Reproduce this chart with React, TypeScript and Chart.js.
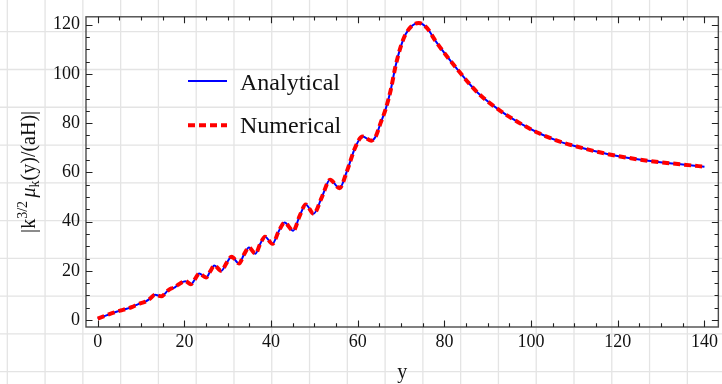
import React, { useEffect, useRef } from "react";
import { Chart, registerables } from "chart.js";

Chart.register(...registerables);

// ---- data ----
const xValues = [0, 1.5, 3, 4.5, 5.5, 6.5, 8, 9, 10, 11, 12, 13.2, 14.7, 16.2, 17, 17.6, 18.5, 20.2, 21.5, 22.5, 23.4, 25.0, 26.0, 26.9, 28.5, 29.8, 30.9, 32.6, 33.8, 34.9, 36.4, 37.5, 38.6, 40.3, 41.8, 43.1, 45.1, 46.6, 48.0, 49.8, 51.8, 53.6, 55.8, 57.5, 59.5, 61.1, 63.1, 64.2, 65.3, 66.4, 67.6, 68.7, 69.9, 71, 72.6, 74.1, 76, 77.9, 80.2, 82.9, 86, 88, 92.5, 97, 101.7, 106.3, 110.5, 117.8, 127, 135, 140];
const analyticalValues = [0.6, 1.6, 2.6, 3.5, 4.0, 4.5, 5.4, 6.2, 6.9, 7.5, 8.6, 10.3, 9.7, 12.0, 12.9, 13.1, 14.3, 15.8, 14.6, 16.8, 18.9, 17.3, 19.9, 22.2, 20.0, 23.4, 25.7, 23.0, 26.8, 29.5, 27.0, 31.0, 33.9, 31.0, 36.2, 39.6, 36.3, 42.3, 47.0, 43.2, 50.3, 57.0, 53.6, 60.5, 70.5, 74.6, 72.9, 74.8, 80.2, 85.5, 93.4, 103, 111, 116, 119.7, 120.7, 118.6, 113.5, 108, 102, 95.5, 91.8, 85.5, 80.4, 76.0, 72.7, 70.5, 67.4, 64.7, 63.2, 62.3];
const numericalValues = [0.6, 1.6, 2.6, 3.5, 4.0, 4.5, 5.4, 6.2, 6.9, 7.5, 8.6, 10.3, 9.7, 12.0, 12.9, 13.1, 14.3, 15.8, 14.6, 16.8, 18.9, 17.3, 19.9, 22.2, 20.0, 23.4, 25.7, 23.0, 26.8, 29.5, 27.0, 31.0, 33.9, 31.0, 36.2, 39.6, 36.3, 42.3, 47.0, 43.2, 50.3, 57.0, 53.6, 60.5, 70.5, 74.6, 72.9, 74.8, 80.2, 85.5, 93.4, 103, 111, 116, 119.7, 120.7, 118.6, 113.5, 108, 102, 95.5, 91.8, 85.5, 80.4, 76.0, 72.7, 70.5, 67.4, 64.7, 63.2, 62.3];

const seriesLabels = ["Analytical", "Numerical"];
const xTicks = [0, 20, 40, 60, 80, 100, 120, 140];
const yTicks = [0, 20, 40, 60, 80, 100, 120];
const minorStep = 5;
const xTitle = "y";

const SERIF = "'Liberation Serif', 'DejaVu Serif', serif";
const BLUE = "rgb(0,0,255)";
const RED = "rgb(255,0,0)";
const FRAME = "#4a4a4a";
const DASH = [7, 4];

function minorList(ticks: number[]) {
  const out: number[] = [];
  const lo = ticks[0];
  const hi = ticks[ticks.length - 1];
  for (let v = lo; v <= hi + 1e-9; v += minorStep) {
    if (!ticks.includes(v)) out.push(v);
  }
  return out;
}

const decorPlugin = {
  id: "decor",
  beforeDraw(chart: any) {
    const { ctx, width, height } = chart;
    ctx.save();
    ctx.fillStyle = "#ffffff";
    ctx.fillRect(0, 0, width, height);
    // graph-paper background
    ctx.strokeStyle = "#e4e4e4";
    ctx.lineWidth = 1.3;
    const step = 37.78;
    ctx.beginPath();
    for (let x = 7.3; x < width; x += step) {
      ctx.moveTo(x, 0);
      ctx.lineTo(x, height);
    }
    for (let y = 31.7; y < height; y += step) {
      ctx.moveTo(0, y);
      ctx.lineTo(width, y);
    }
    ctx.stroke();
    ctx.restore();
  },
  afterDraw(chart: any) {
    const { ctx, chartArea } = chart;
    const { left, right, top, bottom } = chartArea;
    const xs = chart.scales.x;
    const ys = chart.scales.y;
    ctx.save();
    // frame
    ctx.strokeStyle = FRAME;
    ctx.lineWidth = 1.4;
    ctx.strokeRect(left, top, right - left, bottom - top);
    // ticks (inward, mirrored)
    ctx.lineWidth = 1.1;
    ctx.strokeStyle = "#222";
    ctx.beginPath();
    const drawX = (v: number, len: number) => {
      const p = Math.round(xs.getPixelForValue(v)) + 0.5;
      ctx.moveTo(p, bottom);
      ctx.lineTo(p, bottom - len);
      ctx.moveTo(p, top);
      ctx.lineTo(p, top + len);
    };
    const drawY = (v: number, len: number) => {
      const p = Math.round(ys.getPixelForValue(v)) + 0.5;
      ctx.moveTo(left, p);
      ctx.lineTo(left + len, p);
      ctx.moveTo(right, p);
      ctx.lineTo(right - len, p);
    };
    xTicks.forEach((v) => drawX(v, 6.5));
    minorList(xTicks).forEach((v) => drawX(v, 3.8));
    yTicks.forEach((v) => drawY(v, 6.5));
    minorList(yTicks).forEach((v) => drawY(v, 3.8));
    ctx.stroke();

    // legend
    const legendItems = [
      { label: seriesLabels[0], color: BLUE, width: 2, dash: [] as number[], ly: 81, by: 89.5 },
      { label: seriesLabels[1], color: RED, width: 4, dash: DASH, ly: 125.3, by: 132.5 },
    ];
    legendItems.forEach((it) => {
      ctx.beginPath();
      ctx.setLineDash(it.dash);
      ctx.strokeStyle = it.color;
      ctx.lineWidth = it.width;
      ctx.moveTo(188, it.ly);
      ctx.lineTo(227, it.ly);
      ctx.stroke();
      ctx.setLineDash([]);
      ctx.fillStyle = "#111";
      ctx.font = `24px ${SERIF}`;
      ctx.textAlign = "left";
      ctx.textBaseline = "alphabetic";
      ctx.fillText(it.label, 240, it.by);
    });

    // x title
    ctx.fillStyle = "#111";
    ctx.font = `20px ${SERIF}`;
    ctx.textAlign = "center";
    ctx.textBaseline = "alphabetic";
    ctx.fillText(xTitle, (left + right) / 2, 378);

    // y title: |k^{3/2} μ_k(y)/(aH)|
    const parts = [
      { t: "|k", font: `20px ${SERIF}`, dy: 0 },
      { t: "3/2", font: `14px ${SERIF}`, dy: -8 },
      { t: " ", font: `14px ${SERIF}`, dy: 0 },
      { t: "μ", font: `italic 20px ${SERIF}`, dy: 0 },
      { t: "k", font: `14px ${SERIF}`, dy: 4 },
      { t: "(y)/(aH)|", font: `20px ${SERIF}`, dy: 0 },
    ];
    let total = 0;
    const widths = parts.map((p) => {
      ctx.font = p.font;
      const w = ctx.measureText(p.t).width;
      total += w;
      return w;
    });
    ctx.translate(35, (top + bottom) / 2);
    ctx.rotate(-Math.PI / 2);
    ctx.textAlign = "left";
    let cx = -total / 2;
    parts.forEach((p, i) => {
      ctx.font = p.font;
      ctx.fillText(p.t, cx, p.dy);
      cx += widths[i];
    });
    ctx.restore();
  },
};

export default function App() {
  const ref = useRef<HTMLCanvasElement | null>(null);

  useEffect(() => {
    document.body.style.margin = "0";
    const canvas = ref.current;
    if (!canvas) return;
    const analytical = xValues.map((x, i) => ({ x, y: analyticalValues[i] }));
    const numerical = xValues.map((x, i) => ({ x, y: numericalValues[i] }));
    const chart = new Chart(canvas, {
      type: "line",
      data: {
        datasets: [
          {
            label: seriesLabels[1],
            data: numerical,
            borderColor: RED,
            borderWidth: 4,
            borderDash: DASH,
            borderCapStyle: "butt",
            pointRadius: 0,
            cubicInterpolationMode: "monotone",
            order: 0,
          },
          {
            label: seriesLabels[0],
            data: analytical,
            borderColor: BLUE,
            borderWidth: 2,
            pointRadius: 0,
            cubicInterpolationMode: "monotone",
            order: 1,
          },
        ],
      },
      options: {
        animation: false,
        responsive: false,
        devicePixelRatio: 1,
        layout: { padding: { top: 10, right: 1, left: 0, bottom: 0 } },
        plugins: { legend: { display: false }, tooltip: { enabled: false } },
        scales: {
          x: {
            type: "linear",
            min: -2.7,
            max: 143.2,
            grid: { display: false, drawTicks: false },
            border: { display: false },
            ticks: {
              padding: 4,
              color: "#111",
              font: { family: SERIF, size: 18 },
              maxRotation: 0,
            },
            afterBuildTicks: (scale: any) => {
              scale.ticks = xTicks.map((v) => ({ value: v }));
            },
            afterFit: (scale: any) => {
              scale.height = 57;
            },
          },
          y: {
            type: "linear",
            min: -2.8,
            max: 123.2,
            grid: { display: false, drawTicks: false },
            border: { display: false },
            ticks: {
              padding: 6,
              color: "#111",
              font: { family: SERIF, size: 18 },
            },
            afterBuildTicks: (scale: any) => {
              scale.ticks = yTicks.map((v) => ({ value: v }));
            },
            afterFit: (scale: any) => {
              scale.width = 86;
            },
          },
        },
      },
      plugins: [decorPlugin],
    } as any);
    return () => chart.destroy();
  }, []);

  return (
    <div style={{ width: 722, height: 384 }}>
      <canvas ref={ref} width={722} height={384} style={{ display: "block", width: 722, height: 384 }} />
    </div>
  );
}
